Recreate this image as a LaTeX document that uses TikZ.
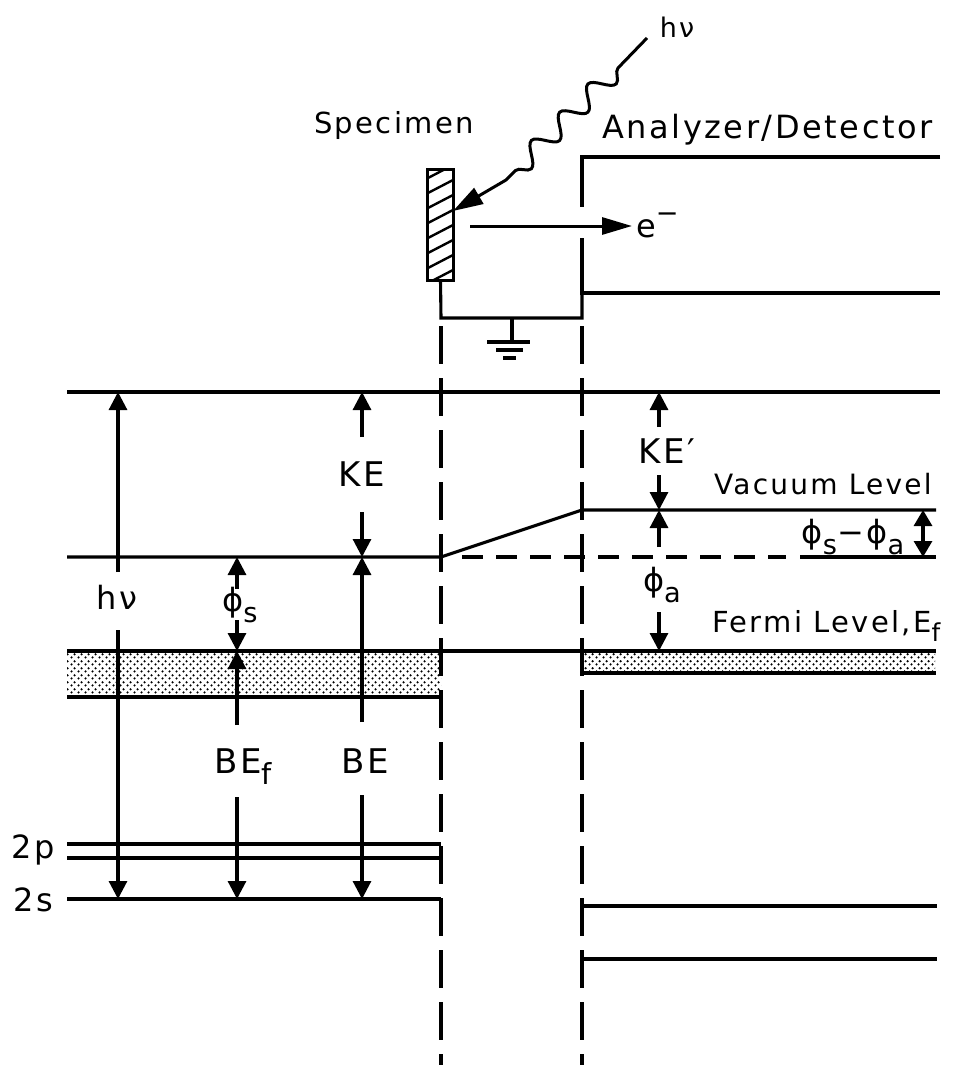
\documentclass[tikz,border=0pt]{standalone}
\usepackage{fontspec}
\setmainfont{DejaVu Sans}[LetterSpace=8]
\usepackage{graphicx}
\usetikzlibrary{arrows.meta,decorations.pathmorphing,patterns.meta}
\newcommand{\fsz}[1]{\fontsize{#1}{#1}\selectfont}
\newcommand{\lsub}[1]{\raisebox{-0.34em}{\scalebox{0.85}{#1}}}
\newcommand{\lsup}[1]{\raisebox{0.45em}{\scalebox{0.85}{#1}}}
\tikzdeclarepattern{
  name=banddots,
  type=uncolored,
  bounding box={(0pt,0pt) and (7pt,7pt)},
  tile size={(7pt,7pt)},
  code={
    \pgfpathcircle{\pgfqpoint{1.75pt}{1.75pt}}{1.35pt}
    \pgfpathcircle{\pgfqpoint{5.25pt}{5.25pt}}{1.35pt}
    \pgfusepath{fill}
  }
}
\begin{document}
\begin{tikzpicture}[x=1pt,y=-1pt,
  lvl/.style={line width=3.1pt},
  wall/.style={line width=4.6pt},
  shaft/.style={line width=3.1pt},
  tip/.style={shaft,-{Triangle[length=18pt,width=18pt]}},
  dtip/.style={shaft,{Triangle[length=16pt,width=18pt]}-{Triangle[length=16pt,width=18pt]}},
  longtip/.style={line width=3pt,-{Triangle[length=30pt,width=17pt]}},
  vdash/.style={lvl,dash pattern=on 38pt off 14pt},
  lab/.style={inner sep=0pt},
  band/.style={pattern=banddots,pattern color=black}
]
\useasboundingbox (0,0) rectangle (963,1065);

% ---------- top part: specimen, analyzer ----------
\node[lab,font=\fsz{27}] (hnutop) at (677,27) {hν};
\node[lab,font=\fsz{29},anchor=base west] (specimen) at (314,133) {Specimen};
\node[lab,font=\fsz{32},anchor=base west] (analyzer) at (602,138) {Analyzer/Detector};

% specimen plate
\node[minimum width=25pt,minimum height=110pt,inner sep=0pt] (spec) at (440.5,225) {};
\begin{scope}
  \clip (spec.south west) rectangle (spec.north east);
  \foreach \yy in {178,193,...,310} \draw[line width=2.4pt] (428,\yy) -- (453,\yy-13);
\end{scope}
\draw[line width=2.8pt] (spec.south west) rectangle (spec.north east);

% photon
\coordinate (w0) at (647,38);
\coordinate (w1) at (618,68);
\coordinate (w2) at (506,180);
\coordinate (w3) at (453,211);
\draw[line width=3pt,-{Triangle[length=30pt,width=18pt]}] (w0) -- (w1)
  decorate[decoration={snake,amplitude=10pt,segment length=40pt}] {-- (w2)} -- (w3);

% analyzer walls
\coordinate (aTL) at (940,157);
\coordinate (aC1) at (582,157);
\coordinate (aC2) at (582,207);
\coordinate (aC3) at (582,238);
\coordinate (aC4) at (582,293);
\coordinate (aBL) at (940,293);
\draw[wall] (aTL) -- (aC1) -- (aC2);
\draw[wall] (aC3) -- (aC4) -- (aBL);

% circuit and ground
\coordinate (wireL) at (441,318);
\coordinate (wireR) at (582,318);
\coordinate (gnd) at (512,318);
\coordinate (gndB) at (512,342);
\draw[lvl] (spec.south) -- (wireL) -- (wireR) -- (aC4);
\draw[lvl] (gnd) -- (gndB);
\draw[line width=3.2pt] (487,342) -- (530,342);
\draw[line width=3.2pt] (496,350) -- (523,350);
\draw[line width=3.2pt] (503,358) -- (516,358);

% electron
\coordinate (e0) at (470,226);
\coordinate (e1) at (632,226);
\node[lab,font=\fsz{32},anchor=base west] (elab) at (636,237) {e\lsup{−}};
\draw[longtip] (e0) -- (e1);

% ---------- vertical dashed separators ----------
\coordinate (dL0) at (441,326);
\coordinate (dL1) at (441,1065);
\coordinate (dR0) at (582,326);
\coordinate (dR1) at (582,1065);
\draw[vdash] (dL0) -- (dL1);
\draw[vdash] (dR0) -- (dR1);

% ---------- energy levels ----------
\fill[band] (67,651) rectangle (441,697);
\fill[band] (582,651) rectangle (935,673);
\draw[lvl] (67,392) -- (940,392);
\draw[lvl] (67,557) -- (441,557) -- (582,510) -- (936,510);
\draw[lvl,dash pattern=on 21pt off 13pt] (462,557) -- (786,557);
\draw[lvl] (800,557) -- (936,557);
\draw[lvl] (67,651) -- (936,651);
\draw[lvl] (67,697) -- (441,697);
\draw[lvl] (582,673) -- (936,673);
\draw[lvl] (67,844) -- (441,844);
\draw[lvl] (67,858) -- (441,858);
\draw[lvl] (67,899) -- (441,899);
\draw[lvl] (582,906) -- (937,906);
\draw[lvl] (582,959) -- (937,959);

% ---------- labels ----------
\node[lab,font=\fsz{32}] (hnu) at (117,597) {hν};
\node[lab,font=\fsz{32}] (phis) at (240,605) {ϕ\lsub{s}};
\node[lab,font=\fsz{34}] (ke) at (362,474) {KE};
\node[lab,font=\fsz{34},anchor=base west] (bef) at (214,773) {BE\lsub{f}};
\node[lab,font=\fsz{34},anchor=base west] (be) at (341,773) {BE};
\node[lab,font=\fsz{34},anchor=base west] (kep) at (638,463) {KE′};
\node[lab,font=\fsz{32}] (phia) at (662,585) {ϕ\lsub{a}};
\node[lab,font=\fsz{28},anchor=base west] (vac) at (714,494) {Vacuum Level};
\node[lab,font=\fsz{29},anchor=base west] (fermi) at (712,632) {Fermi Level,E\lsub{f}};
\node[lab,font=\fsz{32}] (phisa) at (853,537) {ϕ\lsub{s}−ϕ\lsub{a}};
\node[lab,font=\fsz{32}] (twop) at (33,850) {2p};
\node[lab,font=\fsz{32}] (twos) at (33,900) {2s};

% ---------- arrows ----------
\coordinate (hA) at (118,572); \coordinate (hAt) at (118,392);
\coordinate (hB) at (118,630); \coordinate (hBt) at (118,899);
\draw[tip] (hA) -- (hAt);
\draw[tip] (hB) -- (hBt);
\coordinate (pA) at (237,589); \coordinate (pAt) at (237,557);
\coordinate (pB) at (237,620); \coordinate (pBt) at (237,651);
\draw[tip] (pA) -- (pAt);
\draw[tip] (pB) -- (pBt);
\coordinate (bfA) at (237,725); \coordinate (bfAt) at (237,651);
\coordinate (bfB) at (237,797); \coordinate (bfBt) at (237,899);
\draw[tip] (bfA) -- (bfAt);
\draw[tip] (bfB) -- (bfBt);
\coordinate (kA) at (362,437); \coordinate (kAt) at (362,392);
\coordinate (kB) at (362,512); \coordinate (kBt) at (362,557);
\draw[tip] (kA) -- (kAt);
\draw[tip] (kB) -- (kBt);
\coordinate (bA) at (362,722); \coordinate (bAt) at (362,557);
\coordinate (bB) at (362,795); \coordinate (bBt) at (362,899);
\draw[tip] (bA) -- (bAt);
\draw[tip] (bB) -- (bBt);
\coordinate (kpA) at (659,427); \coordinate (kpAt) at (659,392);
\coordinate (kpB) at (659,475); \coordinate (kpBt) at (659,510);
\draw[tip] (kpA) -- (kpAt);
\draw[tip] (kpB) -- (kpBt);
\coordinate (paA) at (659,547); \coordinate (paAt) at (659,510);
\coordinate (paB) at (659,612); \coordinate (paBt) at (659,651);
\draw[tip] (paA) -- (paAt);
\draw[tip] (paB) -- (paBt);
\coordinate (dA) at (923,510); \coordinate (dB) at (923,557);
\draw[dtip] (dA) -- (dB);
\end{tikzpicture}
\end{document}
